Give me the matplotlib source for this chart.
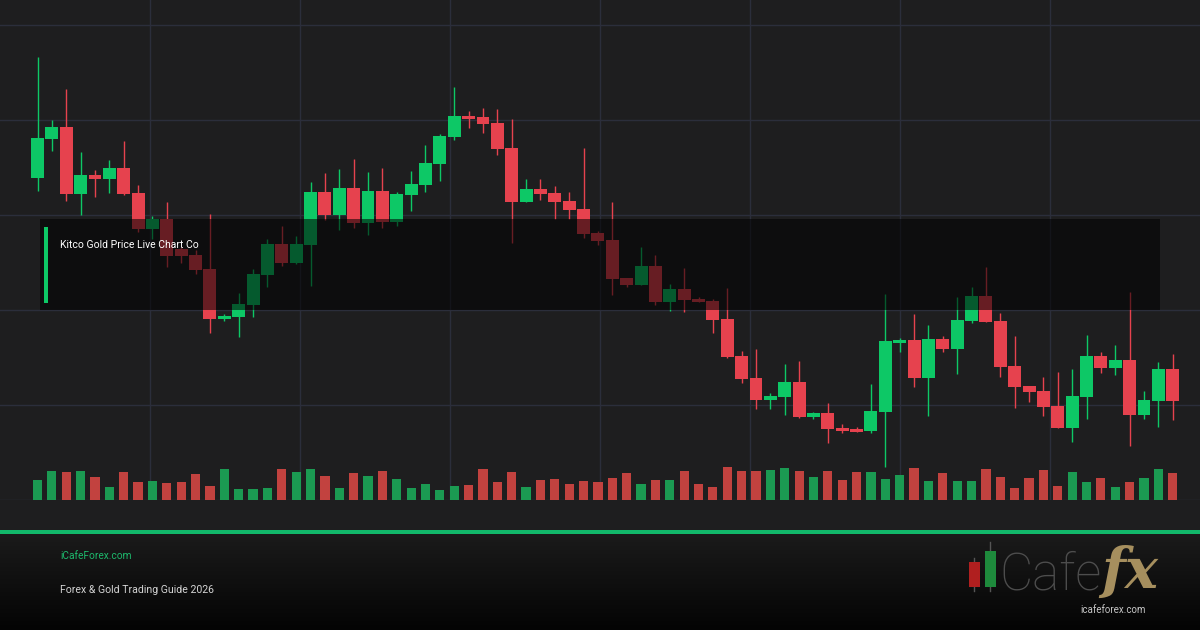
import matplotlib
matplotlib.use("Agg")
import matplotlib.pyplot as plt
import numpy as np
from matplotlib.patches import Rectangle

plt.rcParams['font.family'] = ['Roboto', 'DejaVu Sans']

# daily candles (price units)
opens = [2322.3, 2361.3, 2373.0, 2306.0, 2325.0, 2321.3, 2332.0, 2306.7, 2270.7, 2281.0,
         2250.7, 2245.0, 2231.0, 2180.7, 2183.3, 2195.0, 2225.0, 2256.0, 2237.3, 2255.3,
         2308.0, 2285.3, 2312.0, 2277.3, 2309.0, 2278.3, 2305.3, 2315.3, 2336.3, 2363.3,
         2384.0, 2383.3, 2377.3, 2352.0, 2298.3, 2311.0, 2307.0, 2299.0, 2291.0, 2266.7,
         2259.7, 2222.0, 2215.3, 2234.0, 2198.0, 2210.7, 2200.7, 2199.0, 2181.0, 2144.0,
         2122.0, 2100.3, 2103.0, 2118.0, 2083.3, 2087.0, 2072.0, 2071.0, 2069.0, 2088.0,
         2157.3, 2160.0, 2122.3, 2161.0, 2151.3, 2179.3, 2204.0, 2179.0, 2134.0, 2114.0,
         2109.0, 2094.3, 2072.3, 2103.3, 2144.0, 2132.3, 2140.3, 2085.0, 2099.0, 2131.0]
highs = [2443.3, 2380.0, 2410.7, 2348.0, 2330.0, 2340.0, 2359.0, 2314.7, 2284.0, 2297.7,
         2253.3, 2250.0, 2286.0, 2185.7, 2206.7, 2230.7, 2261.0, 2274.3, 2264.0, 2318.0,
         2327.0, 2331.0, 2341.0, 2328.0, 2332.0, 2308.0, 2329.0, 2355.0, 2366.0, 2413.3,
         2389.0, 2392.0, 2391.0, 2381.0, 2321.0, 2321.0, 2314.0, 2308.0, 2352.0, 2269.0,
         2298.0, 2222.0, 2253.0, 2245.0, 2216.0, 2232.3, 2203.3, 2201.0, 2211.7, 2149.0,
         2150.7, 2107.0, 2136.0, 2139.0, 2087.7, 2096.7, 2075.7, 2073.3, 2116.0, 2206.0,
         2162.0, 2186.3, 2175.0, 2163.7, 2202.7, 2213.0, 2233.3, 2187.3, 2164.0, 2114.0,
         2123.3, 2128.0, 2131.0, 2165.0, 2148.0, 2155.0, 2208.0, 2109.0, 2138.0, 2146.0]
lows = [2309.3, 2349.3, 2299.3, 2285.3, 2303.3, 2307.3, 2305.3, 2268.3, 2260.7, 2233.3,
        2236.7, 2226.0, 2167.3, 2179.0, 2163.3, 2183.3, 2213.0, 2234.0, 2236.0, 2214.0,
        2280.0, 2270.0, 2272.0, 2265.3, 2272.3, 2274.3, 2289.3, 2308.3, 2319.3, 2360.0,
        2372.3, 2367.3, 2345.3, 2257.3, 2298.3, 2300.0, 2281.3, 2280.7, 2261.7, 2254.7,
        2205.0, 2213.3, 2215.3, 2195.3, 2189.3, 2188.3, 2198.0, 2167.3, 2142.3, 2117.3,
        2091.3, 2091.3, 2085.3, 2082.3, 2081.3, 2057.3, 2066.7, 2068.3, 2067.3, 2032.7,
        2148.3, 2113.3, 2084.3, 2148.3, 2126.3, 2176.7, 2178.3, 2123.3, 2092.3, 2098.3,
        2084.3, 2072.3, 2058.3, 2081.0, 2127.3, 2125.3, 2054.3, 2081.3, 2073.3, 2080.3]
closes = [2362.0, 2373.0, 2306.0, 2324.7, 2321.3, 2332.0, 2306.0, 2270.7, 2281.0, 2244.3,
          2244.3, 2230.0, 2180.7, 2184.0, 2196.0, 2226.0, 2255.7, 2237.3, 2256.0, 2308.0,
          2285.3, 2312.0, 2277.3, 2309.0, 2278.3, 2306.0, 2316.0, 2337.0, 2364.0, 2384.0,
          2381.3, 2376.3, 2351.3, 2298.3, 2311.0, 2306.3, 2298.3, 2290.3, 2266.3, 2259.3,
          2221.0, 2215.0, 2234.0, 2198.0, 2210.7, 2200.0, 2198.0, 2180.0, 2143.0, 2121.3,
          2100.3, 2104.0, 2118.0, 2083.3, 2087.0, 2071.3, 2069.0, 2068.3, 2089.0, 2159.0,
          2160.0, 2122.3, 2161.0, 2151.3, 2180.0, 2204.0, 2178.3, 2133.3, 2113.3, 2108.3,
          2093.3, 2072.3, 2104.0, 2144.0, 2132.3, 2140.0, 2085.0, 2100.0, 2131.0, 2099.0]
volumes = [98, 144, 138, 144, 114, 64, 138, 88, 94, 84,
           88, 128, 68, 154, 54, 54, 58, 154, 138, 154,
           118, 58, 134, 118, 144, 104, 58, 78, 48, 68,
           74, 154, 88, 138, 64, 98, 104, 78, 94, 90,
           108, 134, 78, 98, 98, 144, 78, 64, 164, 144,
           144, 148, 158, 144, 114, 144, 98, 138, 138, 104,
           124, 158, 94, 134, 94, 94, 154, 114, 58, 108,
           148, 68, 138, 88, 108, 64, 88, 108, 154, 134]

title_text = "Kitco Gold Price Live Chart Co"
site_text = "iCafeForex.com"
guide_text = "Forex & Gold Trading Guide 2026"

BG = '#1e1e1f'
GRID = '#2b2e3b'
UP = '#0dc866'
DOWN = '#e6424e'
VOL_UP = '#1b9a52'
VOL_DOWN = '#c2423f'

fig = plt.figure(figsize=(12, 6.3), dpi=100, facecolor=BG)

ax = fig.add_axes([0, 130 / 630, 1, 500 / 630])
ax.set_facecolor(BG)
x = np.arange(len(opens))
o = np.array(opens)
h = np.array(highs)
l = np.array(lows)
c = np.array(closes)
up = c >= o
colors = np.where(up, UP, DOWN)

left = -2.61
right = left + 1200 / 14.37
ax.set_xlim(left, right)
ax.set_ylim(2000, 2500)

# grid
for k in range(1, 8):
    ax.axvline(left + (right - left) * k / 8, color=GRID, lw=1, zorder=0)
for yv in [2095, 2190, 2285, 2380, 2475]:
    ax.axhline(yv, color=GRID, lw=1, zorder=0)
ax.axhline(2000.5, color=GRID, lw=1, zorder=0)

ax.vlines(x, l, h, colors=colors, lw=1.0, zorder=2)
body = np.maximum(np.abs(c - o), 1.6)
ax.bar(x, body, bottom=np.minimum(o, c), width=0.9, color=colors, zorder=3)

for s in ax.spines.values():
    s.set_visible(False)
ax.set_xticks([])
ax.set_yticks([])

vax = ax.twinx()
vax.set_ylim(0, 2500)
vax.bar(x, volumes, width=0.64, color=np.where(up, VOL_UP, VOL_DOWN), zorder=1)
vax.set_xlim(left, right)
vax.patch.set_visible(False)
for s in vax.spines.values():
    s.set_visible(False)
vax.set_xticks([])
vax.set_yticks([])

# decoration layer in pixel coordinates
deco = fig.add_axes([0, 0, 1, 1], zorder=5)
deco.axis('off')
deco.patch.set_visible(False)

# title box
deco.add_patch(Rectangle((40, 219), 1120, 91, color='#000000', alpha=0.55, lw=0))
deco.add_patch(Rectangle((44, 227), 3.5, 76, color=UP, lw=0))
deco.text(60, 245, title_text, color='white', fontsize=7.5, va='center', ha='left')

# footer
grad = np.linspace(0, 1, 100).reshape(-1, 1)
top_c = np.array([0x1b, 0x1b, 0x1b]) / 255
bot_c = np.array([0x04, 0x04, 0x04]) / 255
img = top_c[None, None, :] * (1 - grad[:, :, None]) + bot_c[None, None, :] * grad[:, :, None]
deco.imshow(img, extent=(0, 1200, 630, 533), aspect='auto', zorder=1)
deco.add_patch(Rectangle((0, 530), 1200, 4, color='#12b86a', lw=0, zorder=2))
deco.set_xlim(0, 1200)
deco.set_ylim(630, 0)

deco.text(60, 556, site_text, color='#1db86c', fontsize=7.3, va='center', ha='left', zorder=3)
deco.text(60, 590, guide_text, color='#d4d4d4', fontsize=7.6, va='center', ha='left', zorder=3)

# logo
deco.plot([974.3, 974.3], [558, 591], color='#555555', lw=1, zorder=3)
deco.add_patch(Rectangle((968.5, 562), 11.5, 25.3, color='#b01f1f', lw=0, zorder=4))
deco.plot([990.4, 990.4], [542, 591], color='#555555', lw=1, zorder=3)
deco.add_patch(Rectangle((984.6, 550.7), 11.5, 36.6, color='#1e8a3c', lw=0, zorder=4))
deco.text(999, 590, "Cafe", color='#4d4d4d', fontsize=37, fontweight='light',
          va='baseline', ha='left', zorder=3)
deco.text(1101, 588, "fx", color='#a68f5e', fontsize=40, fontweight='bold',
          fontstyle='italic', family='DejaVu Serif', va='baseline', ha='left', zorder=3)
deco.text(1113, 610, "icafeforex.com", color='#c6c6c6', fontsize=7, va='center',
          ha='center', zorder=4)

fig.savefig('out.png', dpi=100, facecolor=BG)
